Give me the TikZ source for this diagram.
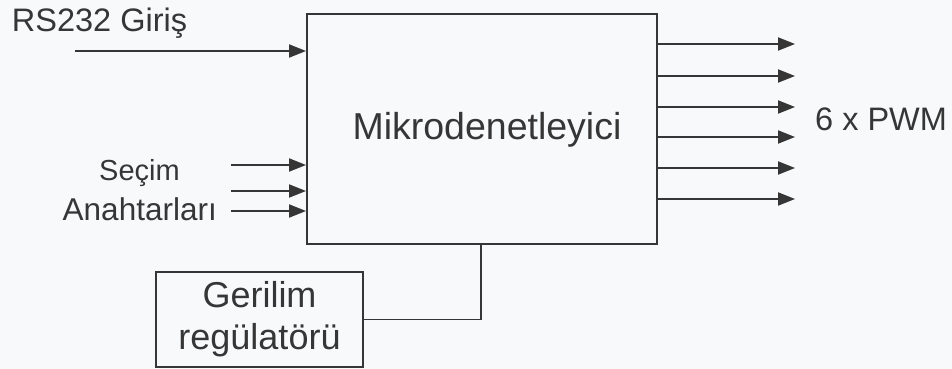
\documentclass[tikz,border=0pt]{standalone}
\usepackage{fontspec}
\setmainfont{Liberation Sans}
\usetikzlibrary{arrows.meta}
\definecolor{ink}{HTML}{363636}
\definecolor{paper}{HTML}{F7F9FB}
\begin{document}
\begin{tikzpicture}[x=1pt,y=-1pt,
  line/.style={draw=ink, line width=1.9pt},
  arr/.style={line, -{Triangle[length=17pt,width=13pt]}},
  boxnode/.style={draw=ink, line width=1.9pt, inner sep=0pt, text=ink},
  lbl/.style={inner sep=0pt, text=ink},
  txtA/.style={font=\fontsize{32.5}{38}\selectfont},
  txtB/.style={font=\fontsize{29}{34}\selectfont},
  txtD/.style={font=\fontsize{31.5}{34}\selectfont},
  txtC/.style={font=\fontsize{36}{43}\selectfont},
  txtM/.style={font=\fontsize{37.5}{43}\selectfont}]
\fill[paper] (0,0) rectangle (952,369);
\useasboundingbox (0,0) rectangle (952,369);

% main block
\node[boxnode, minimum width=350pt, minimum height=230pt] (mcu) at (482,129) {};
\node[lbl, txtM, anchor=base] (mcutxt) at (487,139.3) {Mikrodenetleyici};

% regulator
\node[boxnode, txtC, align=center, minimum width=207pt, minimum height=95pt] (reg) at (259.5,319.5) {Gerilim\\[-1pt]regülatörü};
\coordinate (pwrin) at (481,244);
\draw[line] (reg.east) -| (pwrin);

% inputs
\coordinate (rsin) at (75,51);
\draw[arr] (rsin) -- (rsin -| mcu.west);
\coordinate (s1) at (231,165);
\coordinate (s2) at (231,191);
\coordinate (s3) at (231,211);
\foreach \s in {s1,s2,s3} \draw[arr] (\s) -- (\s -| mcu.west);

% outputs
\foreach \y [count=\i] in {44,76,107,137,168,199} {
  \coordinate (o\i) at (795,\y);
  \draw[arr] (o\i -| mcu.east) -- (o\i);
}

% labels
\node[lbl, txtA, anchor=base west] (rs) at (11.7,31.7) {RS232 Giriş};
\node[lbl, txtB, anchor=base east] (sec) at (180,180) {Seçim};
\node[lbl, txtD, anchor=base east] (anah) at (217,220) {Anahtarları};
\node[lbl, txtA, anchor=base west] (pwm) at (815,130) {6 x PWM};
\end{tikzpicture}
\end{document}
